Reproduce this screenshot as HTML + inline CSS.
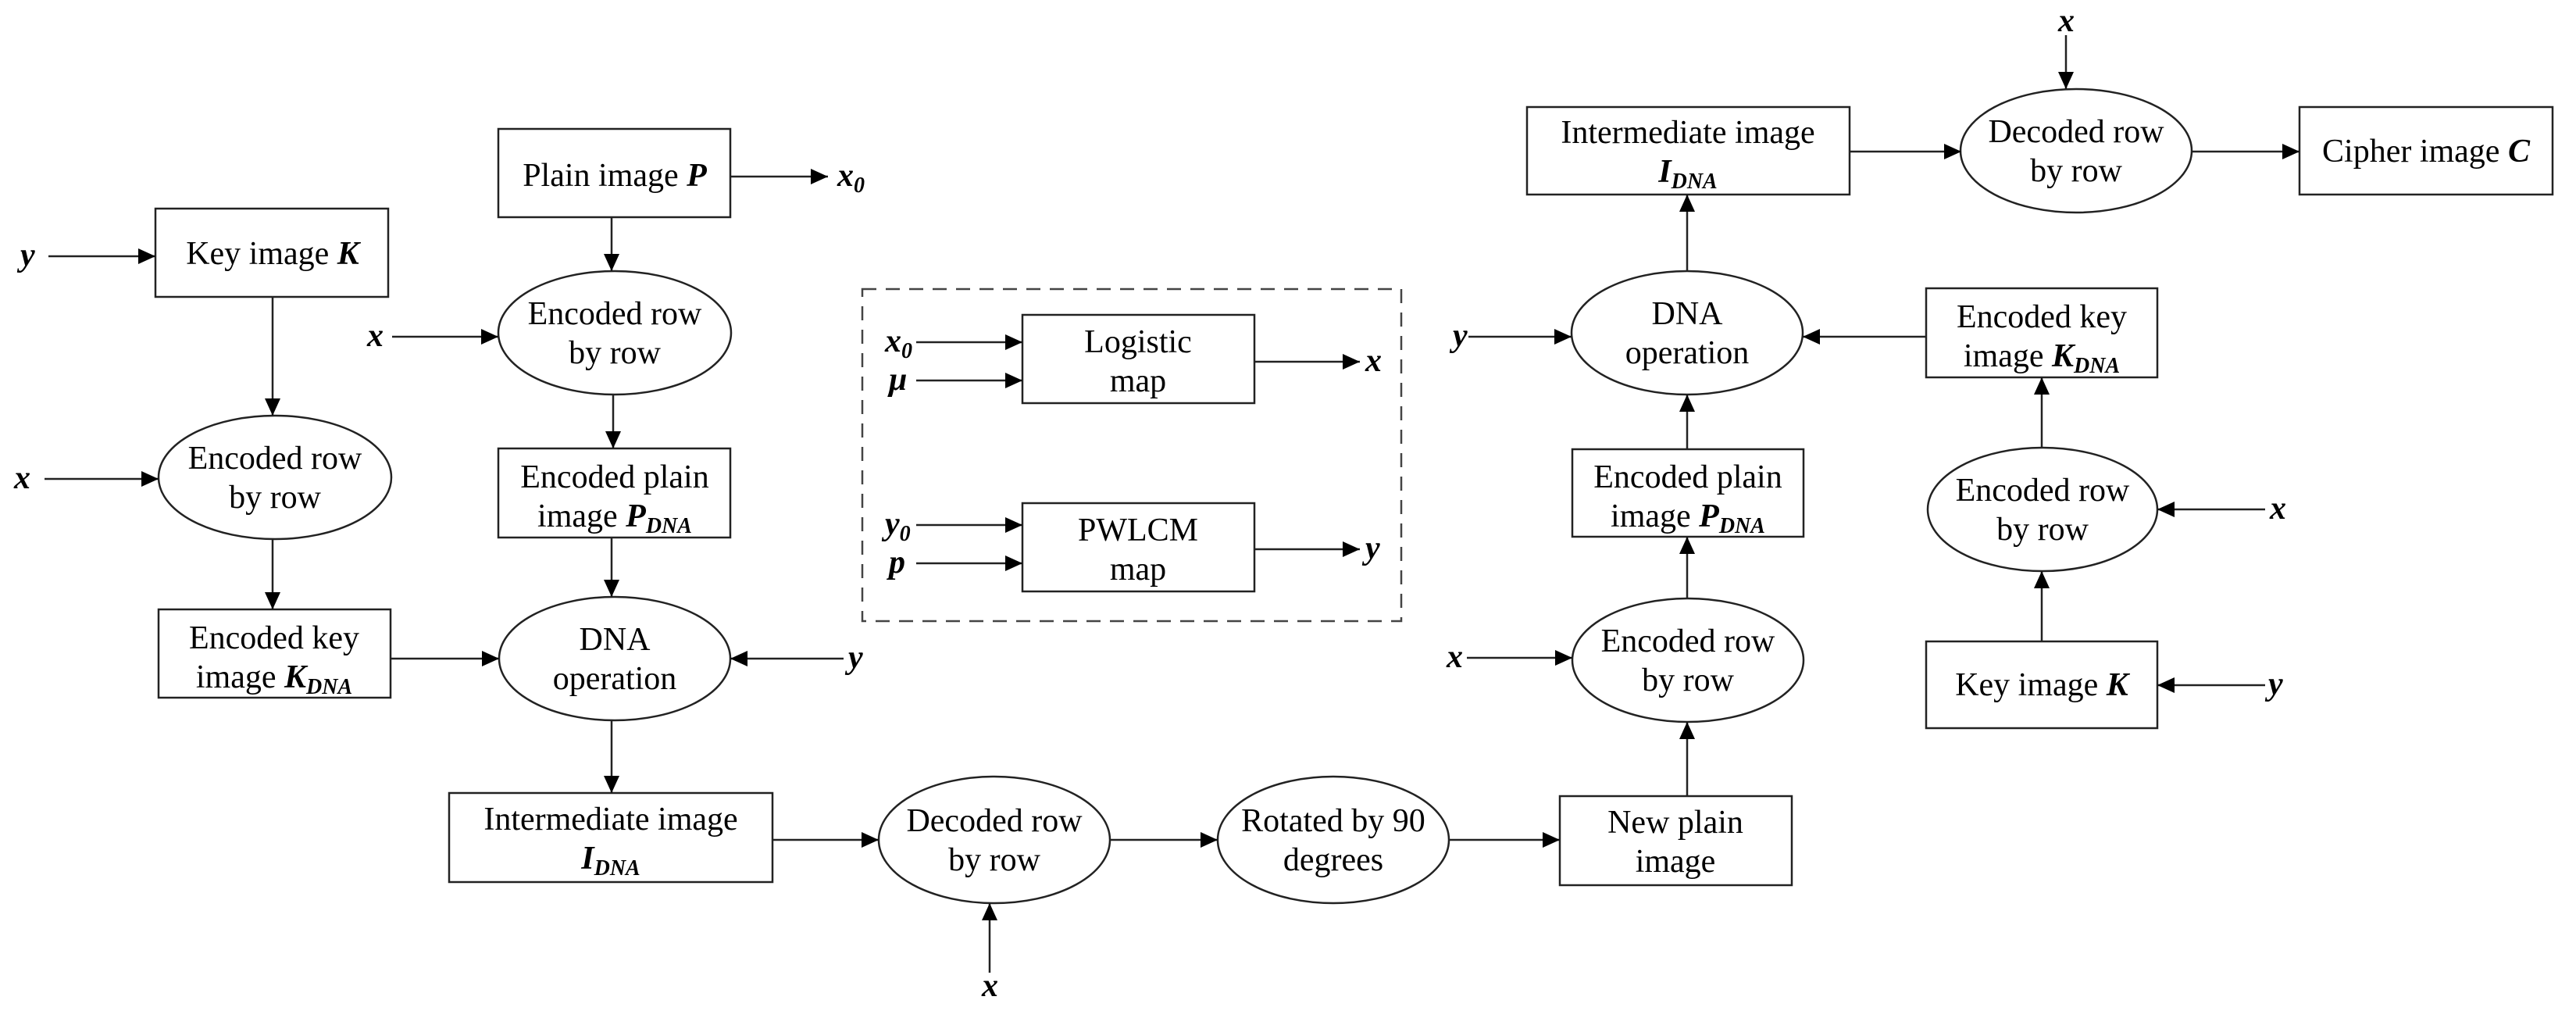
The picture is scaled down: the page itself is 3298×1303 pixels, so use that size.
<!DOCTYPE html>
<html><head><meta charset="utf-8"><style>
html,body{margin:0;padding:0;background:#fff}
svg{display:block}
text{font-family:"Liberation Serif",serif;font-size:42px;fill:#000}
.v{font-weight:bold;font-style:italic;font-size:42px}
.s{font-weight:bold;font-style:italic;font-size:28px}
</style></head><body>
<svg width="3298" height="1303" viewBox="0 0 3298 1303" xmlns="http://www.w3.org/2000/svg">
<defs>
<marker id="a" viewBox="0 0 22 20" refX="22" refY="10" markerWidth="22" markerHeight="20" markerUnits="userSpaceOnUse" orient="auto">
<path d="M0,0 L22,10 L0,20 Z" fill="#000"/></marker>
</defs>
<g fill="none" stroke="#222" stroke-width="2.5">
<rect x="199" y="267" width="298" height="113"/>
<ellipse cx="352" cy="611" rx="149" ry="79"/>
<rect x="203" y="780" width="297" height="113"/>
<rect x="638" y="165" width="297" height="113"/>
<ellipse cx="787" cy="426" rx="149" ry="79"/>
<rect x="638" y="574" width="297" height="114"/>
<ellipse cx="787" cy="843" rx="148" ry="79"/>
<rect x="575" y="1015" width="414" height="114"/>
<ellipse cx="1273" cy="1075" rx="148" ry="81"/>
<ellipse cx="1707" cy="1075" rx="148" ry="81"/>
<rect x="1997" y="1019" width="297" height="114"/>
<ellipse cx="2161" cy="845" rx="148" ry="79"/>
<rect x="2013" y="575" width="296" height="112"/>
<ellipse cx="2160" cy="426" rx="148" ry="79"/>
<rect x="1955" y="137" width="413" height="112"/>
<ellipse cx="2658" cy="193" rx="148" ry="79"/>
<rect x="2944" y="137" width="324" height="112"/>
<rect x="2466" y="369" width="296" height="114"/>
<ellipse cx="2615" cy="652" rx="147" ry="79"/>
<rect x="2466" y="821" width="296" height="111"/>
<rect x="1104" y="370" width="690" height="425" stroke-dasharray="18,12" stroke="#444"/>
<rect x="1309" y="403" width="297" height="113"/>
<rect x="1309" y="644" width="297" height="113"/>
</g>
<g stroke="#222" stroke-width="2.5" marker-end="url(#a)">
<line x1="62" y1="328" x2="199" y2="328"/>
<line x1="57" y1="613" x2="203" y2="613"/>
<line x1="349" y1="380" x2="349" y2="532"/>
<line x1="349" y1="690" x2="349" y2="780"/>
<line x1="500" y1="843" x2="639" y2="843"/>
<line x1="935" y1="226" x2="1060" y2="226"/>
<line x1="502" y1="431" x2="638" y2="431"/>
<line x1="783" y1="278" x2="783" y2="347"/>
<line x1="785" y1="505" x2="785" y2="574"/>
<line x1="783" y1="688" x2="783" y2="764"/>
<line x1="1080" y1="843" x2="935" y2="843"/>
<line x1="783" y1="922" x2="783" y2="1015"/>
<line x1="989" y1="1075" x2="1125" y2="1075"/>
<line x1="1421" y1="1075" x2="1559" y2="1075"/>
<line x1="1855" y1="1075" x2="1997" y2="1075"/>
<line x1="1267" y1="1245" x2="1267" y2="1156"/>
<line x1="2160" y1="1019" x2="2160" y2="924"/>
<line x1="2160" y1="765" x2="2160" y2="687"/>
<line x1="2160" y1="575" x2="2160" y2="505"/>
<line x1="2160" y1="348" x2="2160" y2="249"/>
<line x1="1880" y1="431" x2="2012" y2="431"/>
<line x1="1878" y1="842" x2="2013" y2="842"/>
<line x1="2466" y1="431" x2="2308" y2="431"/>
<line x1="2614" y1="821" x2="2614" y2="731"/>
<line x1="2614" y1="573" x2="2614" y2="483"/>
<line x1="2900" y1="652" x2="2762" y2="652"/>
<line x1="2900" y1="877" x2="2762" y2="877"/>
<line x1="2368" y1="194" x2="2511" y2="194"/>
<line x1="2806" y1="194" x2="2944" y2="194"/>
<line x1="2645" y1="45" x2="2645" y2="114"/>
<line x1="1173" y1="438" x2="1309" y2="438"/>
<line x1="1173" y1="487" x2="1309" y2="487"/>
<line x1="1606" y1="463" x2="1741" y2="463"/>
<line x1="1173" y1="672" x2="1309" y2="672"/>
<line x1="1173" y1="721" x2="1309" y2="721"/>
<line x1="1606" y1="703" x2="1741" y2="703"/>
</g>
<g text-anchor="middle">
<text x="349" y="338">Key image <tspan class="v">K</tspan></text>
<text x="352" y="600">Encoded row</text><text x="352" y="650">by row</text>
<text x="351" y="830">Encoded key</text><text x="351" y="880">image <tspan class="v">K</tspan><tspan class="s" dy="8">DNA</tspan></text>
<text x="787" y="238">Plain image <tspan class="v">P</tspan></text>
<text x="787" y="415">Encoded row</text><text x="787" y="465">by row</text>
<text x="787" y="624">Encoded plain</text><text x="787" y="674">image <tspan class="v">P</tspan><tspan class="s" dy="8">DNA</tspan></text>
<text x="787" y="832">DNA</text><text x="787" y="882">operation</text>
<text x="782" y="1062">Intermediate image</text><text x="782" y="1112"><tspan class="v">I</tspan><tspan class="s" dy="8">DNA</tspan></text>
<text x="1273" y="1064">Decoded row</text><text x="1273" y="1114">by row</text>
<text x="1707" y="1064">Rotated by 90</text><text x="1707" y="1114">degrees</text>
<text x="2145" y="1066">New plain</text><text x="2145" y="1116">image</text>
<text x="2161" y="834">Encoded row</text><text x="2161" y="884">by row</text>
<text x="2161" y="624">Encoded plain</text><text x="2161" y="674">image <tspan class="v">P</tspan><tspan class="s" dy="8">DNA</tspan></text>
<text x="2160" y="415">DNA</text><text x="2160" y="465">operation</text>
<text x="2161" y="183">Intermediate image</text><text x="2161" y="233"><tspan class="v">I</tspan><tspan class="s" dy="8">DNA</tspan></text>
<text x="2658" y="182">Decoded row</text><text x="2658" y="232">by row</text>
<text x="3106" y="207">Cipher image <tspan class="v">C</tspan></text>
<text x="2614" y="419">Encoded key</text><text x="2614" y="469">image <tspan class="v">K</tspan><tspan class="s" dy="8">DNA</tspan></text>
<text x="2615" y="641">Encoded row</text><text x="2615" y="691">by row</text>
<text x="2614" y="890">Key image <tspan class="v">K</tspan></text>
<text x="1457" y="451">Logistic</text><text x="1457" y="501">map</text>
<text x="1457" y="692">PWLCM</text><text x="1457" y="742">map</text>
</g>
<g>
<text class="v" x="26" y="340">y</text>
<text class="v" x="18" y="625">x</text>
<text class="v" x="1072" y="238">x<tspan class="s" dy="8">0</tspan></text>
<text class="v" x="470" y="443">x</text>
<text class="v" x="1086" y="855">y</text>
<text class="v" x="1257" y="1275">x</text>
<text class="v" x="1860" y="443">y</text>
<text class="v" x="1852" y="854">x</text>
<text class="v" x="2906" y="664">x</text>
<text class="v" x="2904" y="889">y</text>
<text class="v" x="2635" y="40">x</text>
<text class="v" x="1133" y="450">x<tspan class="s" dy="8">0</tspan></text>
<text class="v" x="1138" y="499">μ</text>
<text class="v" x="1133" y="684">y<tspan class="s" dy="8">0</tspan></text>
<text class="v" x="1138" y="733">p</text>
<text class="v" x="1748" y="475">x</text>
<text class="v" x="1748" y="715">y</text>
</g>
</svg>
</body></html>
